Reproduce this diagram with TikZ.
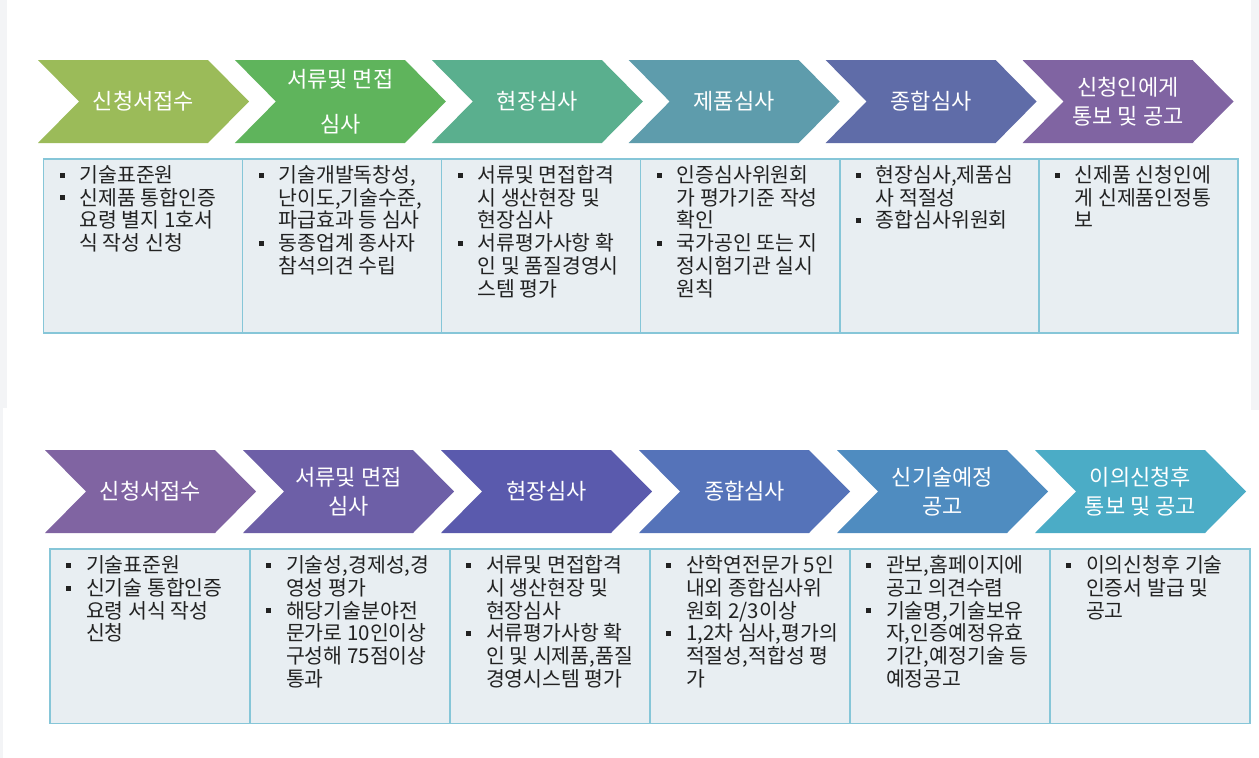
\documentclass[tikz,border=0pt]{standalone}
\usepackage{fontspec}
\setmainfont{Noto Sans CJK KR}
\definecolor{ta}{HTML}{9BBB59}
\definecolor{tb}{HTML}{5FB45C}
\definecolor{tc}{HTML}{5AAF8E}
\definecolor{td}{HTML}{5E9CAC}
\definecolor{te}{HTML}{5F6CA8}
\definecolor{tf}{HTML}{8064A2}
\definecolor{ba}{HTML}{8064A2}
\definecolor{bb}{HTML}{6D5FA7}
\definecolor{bc}{HTML}{5A5AAD}
\definecolor{bd}{HTML}{5573B9}
\definecolor{be}{HTML}{4F8CC0}
\definecolor{bf}{HTML}{4BACC6}
\definecolor{boxfill}{HTML}{E8EEF2}
\definecolor{boxline}{HTML}{86C6D8}
\definecolor{txt}{HTML}{222222}
\definecolor{strip}{HTML}{F3F4F6}
\tikzset{
  chevtext/.style={text=white, align=center, inner sep=0pt, font=\fontsize{22}{29}\selectfont},
  infobox/.style={draw=boxline, line width=1.6pt, fill=boxfill, anchor=north west, inner sep=0pt},
  infotext/.style={anchor=base west, inner sep=0pt, text=txt}
}
\newcommand\chev[5]{%
  \fill[#4] (#2,#3) -- ++(170,0) -- ++(41,41.5) -- ++(-41,41.5) -- ++(-170,0) -- ++(41,-41.5) -- cycle;
  \node[chevtext] (#1) at ({#2+105.5},{#3+41.5}) {#5};
}
\newcommand\bitem{\makebox[20pt][l]{\rule[5pt]{5pt}{5pt}}}
\newcommand\bcont{\hspace*{20pt}}
\newcommand\infobox[6]{% name, x, y, w, h, content
  \node[infobox, minimum width=#4pt, minimum height=#5pt] (#1) at (#2,#3) {};
  \node[infotext] (#1t) at ([xshift=16.6pt, yshift=-24.5pt]#1.north west)
    {\parbox[t]{180pt}{\fontsize{20.5}{22.7}\selectfont\raggedright #6}};
}
\begin{document}
\begin{tikzpicture}[x=1pt,y=-1pt]
\fill[white] (0,0) rectangle (1259,758);
\useasboundingbox (0,0) rectangle (1259,758);
\fill[strip] (0,0) rectangle (7,408);
\fill[strip] (1251,0) rectangle (1259,410);
\fill[strip] (0,398) rectangle (2.5,758);

% top row chevrons
\chev{t1}{38}{60}{ta}{신청서접수}
\chev{t2}{234.9}{60}{tb}{서류및 면접\\[16pt]심사}
\chev{t3}{431.8}{60}{tc}{현장심사}
\chev{t4}{628.7}{60}{td}{제품심사}
\chev{t5}{825.6}{60}{te}{종합심사}
\chev{t6}{1022.5}{60}{tf}{신청인에게\\통보 및 공고}

% top row boxes
\infobox{tb1}{42.7}{158}{199.05}{174}{\bitem 기술표준원\\ \bitem 신제품 통합인증\\ \bcont 요령 별지 1호서\\ \bcont 식 작성 신청}
\infobox{tb2}{241.75}{158}{199.05}{174}{\bitem 기술개발독창성,\\ \bcont 난이도,기술수준,\\ \bcont 파급효과 등 심사\\ \bitem 동종업계 종사자\\ \bcont 참석의견 수립}
\infobox{tb3}{440.8}{158}{199.05}{174}{\bitem 서류및 면접합격\\ \bcont 시 생산현장 및\\ \bcont 현장심사\\ \bitem 서류평가사항 확\\ \bcont 인 및 품질경영시\\ \bcont 스템 평가}
\infobox{tb4}{639.85}{158}{199.05}{174}{\bitem 인증심사위원회\\ \bcont 가 평가기준 작성\\ \bcont 확인\\ \bitem 국가공인 또는 지\\ \bcont 정시험기관 실시\\ \bcont 원칙}
\infobox{tb5}{838.9}{158}{199.05}{174}{\bitem 현장심사,제품심\\ \bcont 사 적절성\\ \bitem 종합심사위원회}
\infobox{tb6}{1037.95}{158}{199.05}{174}{\bitem 신제품 신청인에\\ \bcont 게 신제품인정통\\ \bcont 보}

% bottom row chevrons
\chev{b1}{45}{450}{ba}{신청서접수}
\chev{b2}{243}{450}{bb}{서류및 면접\\심사}
\chev{b3}{441}{450}{bc}{현장심사}
\chev{b4}{639}{450}{bd}{종합심사}
\chev{b5}{837}{450}{be}{신기술예정\\공고}
\chev{b6}{1035}{450}{bf}{이의신청후\\통보 및 공고}

% bottom row boxes
\infobox{bb1}{49.3}{548.3}{200}{174.4}{\bitem 기술표준원\\ \bitem 신기술 통합인증\\ \bcont 요령 서식 작성\\ \bcont 신청}
\infobox{bb2}{249.3}{548.3}{200}{174.4}{\bitem 기술성,경제성,경\\ \bcont 영성 평가\\ \bitem 해당기술분야전\\ \bcont 문가로 10인이상\\ \bcont 구성해 75점이상\\ \bcont 통과}
\infobox{bb3}{449.3}{548.3}{200}{174.4}{\bitem 서류및 면접합격\\ \bcont 시 생산현장 및\\ \bcont 현장심사\\ \bitem 서류평가사항 확\\ \bcont 인 및 시제품,품질\\ \bcont 경영시스템 평가}
\infobox{bb4}{649.3}{548.3}{200}{174.4}{\bitem 산학연전문가 5인\\ \bcont 내외 종합심사위\\ \bcont 원회 2/3이상\\ \bitem 1,2차 심사,평가의\\ \bcont 적절성,적합성 평\\ \bcont 가}
\infobox{bb5}{849.3}{548.3}{200}{174.4}{\bitem 관보,홈페이지에\\ \bcont 공고 의견수렴\\ \bitem 기술명,기술보유\\ \bcont 자,인증예정유효\\ \bcont 기간,예정기술 등\\ \bcont 예정공고}
\infobox{bb6}{1049.3}{548.3}{200}{174.4}{\bitem 이의신청후 기술\\ \bcont 인증서 발급 및\\ \bcont 공고}
\end{tikzpicture}
\end{document}
